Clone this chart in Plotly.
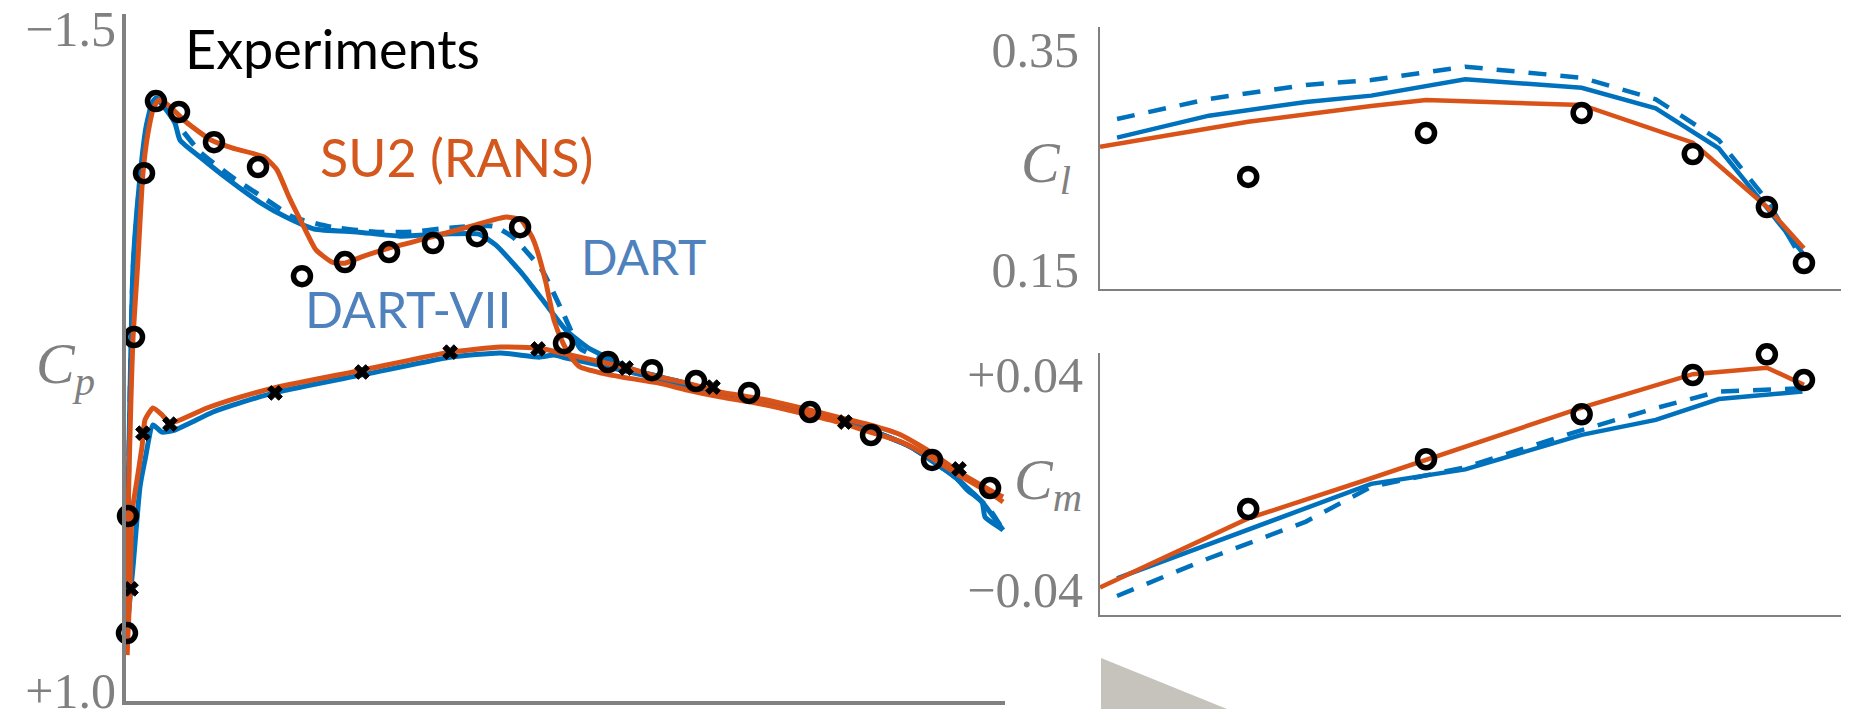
import plotly.graph_objects as go

W, H = 1851, 709
ORANGE = "#D95319"
BLUE = "#0072BD"
GRAY = "#808080"

# --- Pressure coefficient (x/c, Cp) ---
su2_up_x = [.0011,.0023,.0057,.0080,.0131,.0193,.0250,.0318,.0375,.0478,.0683,.0967,.1206,.1570,.1718,.1854,.2025,.2162,.2344,.2491,.2673,.2992,.3481,.3971,.4323,.4494,.4619,.4676,.4778,.4869,.4972,.5063,.5165,.5405,.5711,.6064,.6383,.6770,.7168,.7680,.8146,.8465,.8817,.9170,.9477,.9830,.9978]
su2_up_cp = [.868,.343,-.106,-.333,-.597,-.952,-1.103,-1.202,-1.228,-1.209,-1.145,-1.077,-1.047,-1.013,-.964,-.862,-.748,-.662,-.616,-.612,-.635,-.669,-.711,-.756,-.786,-.775,-.711,-.662,-.537,-.397,-.310,-.257,-.220,-.197,-.178,-.159,-.133,-.106,-.084,-.046,-.008,.026,.063,.124,.188,.256,.290]
su2_lo_x = [.0011,.0046,.0068,.0125,.0182,.0216,.0307,.0410,.0500,.0921,.1297,.1718,.2685,.3688,.4257,.4701,.5053,.5405,.5711,.6064,.6383,.6770,.7168,.7680,.8146,.8465,.8817,.9170,.9477,.9830,.9978]
su2_lo_cp = [.868,.622,.331,.207,.082,-.020,-.065,-.039,-.008,-.065,-.106,-.144,-.208,-.276,-.295,-.291,-.265,-.239,-.216,-.182,-.159,-.125,-.103,-.065,-.027,-.001,.037,.105,.177,.245,.271]

vii_up_x = [.0000,.0023,.0080,.0148,.0228,.0296,.0341,.0432,.0557,.0614,.0842,.1172,.1536,.1820,.2139,.2628,.3118,.3640,.4015,.4209,.4493,.4767,.5006,.5245,.5484,.5791,.6223,.6770,.7756,.8465,.8930,.9443,.9568,.9739,.9773,.9944,.9978]
vii_up_cp = [.811,.282,-.597,-.899,-1.126,-1.217,-1.236,-1.202,-1.141,-1.077,-1.013,-.926,-.839,-.786,-.741,-.730,-.714,-.722,-.722,-.680,-.578,-.461,-.359,-.295,-.254,-.208,-.171,-.122,-.050,.018,.082,.199,.244,.290,.347,.388,.396]
dart_up_x = [.0023,.0080,.0159,.0239,.0307,.0352,.0455,.0568,.0637,.0842,.1206,.1570,.1900,.2344,.2833,.3243,.3688,.4176,.4415,.4540,.4733,.4972,.5165,.5359,.5620,.6223,.6770,.7756,.8465,.8930,.9443,.9659,.9830,.9978]
dart_up_cp = [.320,-.586,-.926,-1.134,-1.217,-1.236,-1.198,-1.145,-1.115,-1.032,-.937,-.858,-.786,-.748,-.730,-.730,-.745,-.752,-.707,-.662,-.586,-.424,-.291,-.257,-.220,-.171,-.122,-.050,.018,.082,.199,.264,.320,.396]
blue_lo_x = [.0000,.0080,.0159,.0216,.0307,.0410,.0557,.0728,.0990,.1331,.1718,.2685,.3688,.4257,.4701,.4870,.5006,.5484,.6223,.6770,.7756,.8465,.8930,.9443,.9739,.9978]
blue_lo_cp = [.811,.535,.233,.131,-.001,.026,.018,-.008,-.050,-.088,-.125,-.190,-.257,-.273,-.257,-.265,-.254,-.220,-.163,-.122,-.050,.018,.082,.199,.290,.396]

exp_up_x = [.0011,.0023,.0091,.0205,.0341,.0603,.1001,.1502,.2002,.2491,.2992,.3493,.3993,.4483,.4983,.5484,.5984,.6485,.7088,.7782,.8476,.9170,.9830]
exp_up_cp = [.785,.343,-.333,-.952,-1.224,-1.183,-1.069,-.975,-.563,-.616,-.654,-.688,-.714,-.748,-.310,-.239,-.208,-.167,-.122,-.050,.037,.131,.237]
exp_lo_x = [.0057,.0193,.0500,.1695,.2685,.3688,.4688,.5688,.6678,.8178,.9477]
exp_lo_cp = [.618,.030,-.004,-.122,-.201,-.276,-.288,-.216,-.144,-.012,.165]

# --- Spanwise loads ---
eta_su2 = [0,.2,.366,.44,.65,.8,.9,.95]
eta_vii = [.023,.147,.278,.366,.493,.65,.75,.835,.9,.948]
cl_su2 = [.2621,.2848,.2991,.3045,.3000,.2657,.2073,.1697]
cl_vii = [.2703,.2903,.3027,.3085,.3234,.3157,.2970,.2606,.2064,.1655]
cl_dart = [.2873,.3055,.3182,.3227,.3348,.3248,.3052,.2682,.2136,.1591]
eta_cm_b = [.023,.2,.366,.493,.65,.75,.835,.948]
eta_cm_d = [.023,.147,.278,.366,.493,.65,.75,.835,.948]
cm_su2 = [-.0394,-.0136,.0014,.0082,.0278,.0403,.0427,.0363]
cm_vii = [-.036,-.018,-.0007,.0047,.0176,.0232,.031,.0338]
cm_dart = [-.0426,-.0285,-.0148,-.0018,.0055,.0194,.0276,.0338,.035]
eta_exp = [.2,.44,.65,.8,.9,.95]
cl_exp = [.2346,.2745,.2927,.2555,.2073,.1564]
cm_exp = [-.0101,.0085,.0253,.04,.0477,.0381]

cp_ticks, cp_text = [-1.5, 1.0], ["\u22121.5", "+1.0"]
cl_ticks, cl_text = [.35, .15], ["0.35", "0.15"]
cm_ticks, cm_text = [.04, -.04], ["+0.04", "\u22120.04"]

fig = go.Figure()

def line(x, y, color, xa, ya, w, dash="solid", shape="linear"):
    fig.add_trace(go.Scatter(x=x, y=y, mode="lines", xaxis=xa, yaxis=ya, showlegend=False,
                             line=dict(color=color, width=w, dash=dash, shape=shape, smoothing=0.5)))

def marks(x, y, xa, ya, symbol, size, lw):
    fig.add_trace(go.Scatter(x=x, y=y, mode="markers", xaxis=xa, yaxis=ya, showlegend=False, cliponaxis=False,
                             marker=dict(symbol=symbol, size=size, color="black",
                                         line=dict(color="black", width=lw))))

line(dart_up_x, dart_up_cp, BLUE, "x", "y", 5, "16px,11px", "spline")
line(vii_up_x, vii_up_cp, BLUE, "x", "y", 5, "solid", "spline")
line(blue_lo_x, blue_lo_cp, BLUE, "x", "y", 5, "solid", "spline")
line(su2_up_x, su2_up_cp, ORANGE, "x", "y", 5, "solid", "spline")
line(su2_lo_x, su2_lo_cp, ORANGE, "x", "y", 5, "solid", "spline")
marks(exp_up_x, exp_up_cp, "x", "y", "circle-open", 17, 5.5)
marks(exp_lo_x, exp_lo_cp, "x", "y", "x", 13, 1)

line(eta_vii, cl_dart, BLUE, "x2", "y2", 4.5, "18px,14px")
line(eta_vii, cl_vii, BLUE, "x2", "y2", 4.5)
line(eta_su2, cl_su2, ORANGE, "x2", "y2", 4.5)
marks(eta_exp, cl_exp, "x2", "y2", "circle-open", 17, 5.5)

line(eta_cm_d, cm_dart, BLUE, "x3", "y3", 4.5, "18px,14px")
line(eta_cm_b, cm_vii, BLUE, "x3", "y3", 4.5)
line(eta_su2, cm_su2, ORANGE, "x3", "y3", 4.5)
marks(eta_exp, cm_exp, "x3", "y3", "circle-open", 17, 5.5)

def xdom(a, b): return [a / W, b / W]
def ydom(top, bot): return [1 - bot / H, 1 - top / H]

TICKF = dict(family="Liberation Serif", size=50, color=GRAY)
def xax(dom, rng, lw, anchor):
    return dict(domain=dom, range=rng, showline=True, linecolor=GRAY, linewidth=lw, showgrid=False,
                zeroline=False, ticks="", showticklabels=False, anchor=anchor, automargin=False)
def yax(dom, rng, lw, vals, text, stand, anchor):
    return dict(domain=dom, range=rng, showline=True, linecolor=GRAY, linewidth=lw, showgrid=False,
                zeroline=False, ticks="", tickmode="array", tickvals=vals, ticktext=text, tickfont=TICKF,
                ticklabelstandoff=stand, ticklabeloverflow="allow", anchor=anchor, automargin=False)

ann = []
def label(txt, px, py, color, size, family="Lato"):
    ann.append(dict(text=txt, x=px / W, y=1 - py / H, xref="paper", yref="paper", showarrow=False,
                    xanchor="center", yanchor="middle", font=dict(family=family, size=size, color=color)))

label("Experiments", 332, 48, "black", 54)
label("SU2 (RANS)", 456, 157, "#D4581E", 52)
label("DART", 643, 256, "#4F81BD", 48)
label("DART-VII", 408, 309, "#4F81BD", 50)
label("<i>C<sub>p</sub></i>", 65, 367, GRAY, 58, "Liberation Serif")
label("<i>C<sub>l</sub></i>", 1046, 167, GRAY, 58, "Liberation Serif")
label("<i>C<sub>m</sub></i>", 1048, 483, GRAY, 58, "Liberation Serif")

fig.update_layout(
    width=W, height=H, margin=dict(l=0, r=0, t=0, b=0, autoexpand=False), paper_bgcolor="white", plot_bgcolor="white",
    xaxis=xax(xdom(126, 1005), [0, 1.0], 4, "y"),
    yaxis=yax(ydom(14, 701), [1.0415, -1.553], 4, cp_ticks, cp_text, -4, "x"),
    xaxis2=xax(xdom(1100, 1841), [0, 1.0], 2, "y2"),
    yaxis2=yax(ydom(27, 289), [.1327, .3709], 2, cl_ticks, cl_text, 9, "x2"),
    xaxis3=xax(xdom(1100, 1841), [0, 1.0], 2, "y3"),
    yaxis3=yax(ydom(353, 615), [-.0497, .0482], 2, cm_ticks, cm_text, 5, "x3"),
    annotations=ann,
    shapes=[dict(type="path", xref="paper", yref="paper", layer="below", line=dict(width=0), fillcolor="#c5c3bb",
                 path=f"M {1101/W} 0 L {1101/W} {1-658/H} L {1227/W} 0 Z")],
)
fig.write_html("out.html", config={"displayModeBar": False},
               post_script="document.body.style.margin='0';document.body.style.overflow='hidden';")
